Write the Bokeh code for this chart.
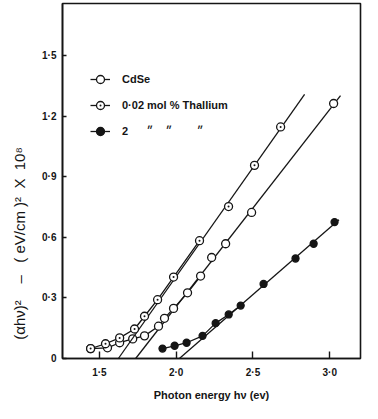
import numpy as np
from bokeh.plotting import figure
from bokeh.models import FixedTicker, Range1d, Legend, LegendItem
from bokeh.embed import file_html
from bokeh.resources import INLINE

# ---- data ----
cdse_x = [1.443, 1.553, 1.632, 1.717, 1.794, 1.885, 1.924, 1.983, 2.074, 2.159, 2.231, 2.322, 2.491, 3.025]
cdse_y = [0.049, 0.053, 0.078, 0.097, 0.112, 0.160, 0.199, 0.248, 0.325, 0.408, 0.500, 0.568, 0.723, 1.262]
tl002_x = [1.443, 1.540, 1.632, 1.729, 1.794, 1.879, 1.983, 2.152, 2.341, 2.510, 2.680]
tl002_y = [0.049, 0.073, 0.102, 0.146, 0.209, 0.291, 0.403, 0.583, 0.752, 0.956, 1.146]
tl2_x = [1.911, 1.990, 2.068, 2.172, 2.257, 2.342, 2.420, 2.569, 2.777, 2.895, 3.031]
tl2_y = [0.049, 0.063, 0.078, 0.112, 0.175, 0.218, 0.262, 0.369, 0.495, 0.568, 0.675]

# first index of the straight (linear) portion and end of drawn fit line
cdse_lin_start, cdse_fit_end = 9, 3.07
tl002_lin_start, tl002_fit_end = 7, 2.836
tl2_lin_start, tl2_fit_end = 6, 3.06

x_ticks = [1.5, 2.0, 2.5, 3.0]
x_tick_labels = ["1·5", "2·0", "2·5", "3·0"]
y_ticks = [0, 0.3, 0.6, 0.9, 1.2, 1.5]
y_tick_labels = ["0", "0·3", "0·6", "0·9", "1·2", "1·5"]

NB = "\u00a0"
labels = ["CdSe", "0·02 mol % Thallium",
          "2" + NB * 6 + "״" + NB * 8 + "״" + NB * 4 + "״"]
# trailing no-break spaces keep the visible label low on the axis, as in the reference
y_label = ("(αhν)²" + NB * 4 + "–" + NB * 3 + "(" + NB + "eV/cm" + NB + ")²"
           + NB * 2 + "X" + NB * 2 + "10⁸" + NB * 30)

FONT = "Liberation Sans"
INK = "#151515"

p = figure(width=362, height=403, output_backend="svg", toolbar_location=None,
           x_range=Range1d(1.26, 3.20), y_range=Range1d(0, 1.757),
           min_border_left=62, min_border_right=2, min_border_top=3, min_border_bottom=38)
p.grid.visible = False
p.background_fill_color = "white"
p.border_fill_color = "white"
p.outline_line_color = INK
p.outline_line_width = 1.6

for ax in (p.xaxis[0], p.yaxis[0]):
    ax.axis_line_color = INK
    ax.axis_line_width = 1.6
    ax.major_tick_line_color = INK
    ax.major_tick_line_width = 1.4
    ax.minor_tick_line_color = None
    ax.major_label_text_font = FONT
    ax.major_label_text_font_style = "bold"
    ax.major_label_text_font_size = "10px"
    ax.major_label_text_color = INK
    ax.axis_label_text_font = FONT
    ax.axis_label_text_color = INK
    ax.axis_label_text_font_style = "bold"

p.xaxis.ticker = FixedTicker(ticks=x_ticks)
p.xaxis.major_label_overrides = {t: l for t, l in zip(x_ticks, x_tick_labels)}
p.xaxis.major_tick_in = 7
p.xaxis.major_tick_out = 0
p.xaxis.major_label_standoff = 8
p.xaxis.axis_label = "Photon energy hν (ev)"
p.xaxis.axis_label_text_font_size = "11px"
p.xaxis.axis_label_standoff = 8

p.yaxis.ticker = FixedTicker(ticks=y_ticks)
p.yaxis.major_label_overrides = {t: l for t, l in zip(y_ticks, y_tick_labels)}
p.yaxis.major_tick_in = 4
p.yaxis.major_tick_out = 0
p.yaxis.major_label_standoff = 6
p.yaxis.axis_label = y_label
p.yaxis.axis_label_text_font_size = "15px"
p.yaxis.axis_label_text_font_style = "normal"
p.yaxis.axis_label_standoff = 11


def fit_line(xs, ys, start, end_x):
    m, c = np.polyfit(xs[start:], ys[start:], 1)
    x0 = -c / m
    return [x0, end_x], [0.0, m * end_x + c]


series = [
    (cdse_x, cdse_y, cdse_lin_start, cdse_fit_end, "circle", "white", 8),
    (tl002_x, tl002_y, tl002_lin_start, tl002_fit_end, "circle_dot", "white", 8),
    (tl2_x, tl2_y, tl2_lin_start, tl2_fit_end, "circle", INK, 7),
]

items = []
for (xs, ys, st, ex, marker, fill, size), lab in zip(series, labels):
    fx, fy = fit_line(xs, ys, st, ex)
    p.line(fx, fy, line_color=INK, line_width=1.3)
    lr = p.line(xs[:st + 1], ys[:st + 1], line_color=INK, line_width=1.3)
    sr = p.scatter(xs, ys, marker=marker, size=size, fill_color=fill,
                   line_color=INK, line_width=1.3)
    items.append(LegendItem(label=lab, renderers=[lr, sr]))

legend = Legend(items=items, location=(28, 217), orientation="vertical",
                glyph_width=20, glyph_height=20, label_height=20, spacing=6,
                label_standoff=12, padding=0, margin=0,
                background_fill_alpha=0, border_line_color=None,
                label_text_font=FONT, label_text_font_size="11px",
                label_text_font_style="bold", label_text_color=INK)
p.add_layout(legend, "center")

open("out.html", "w").write(file_html(p, INLINE))
